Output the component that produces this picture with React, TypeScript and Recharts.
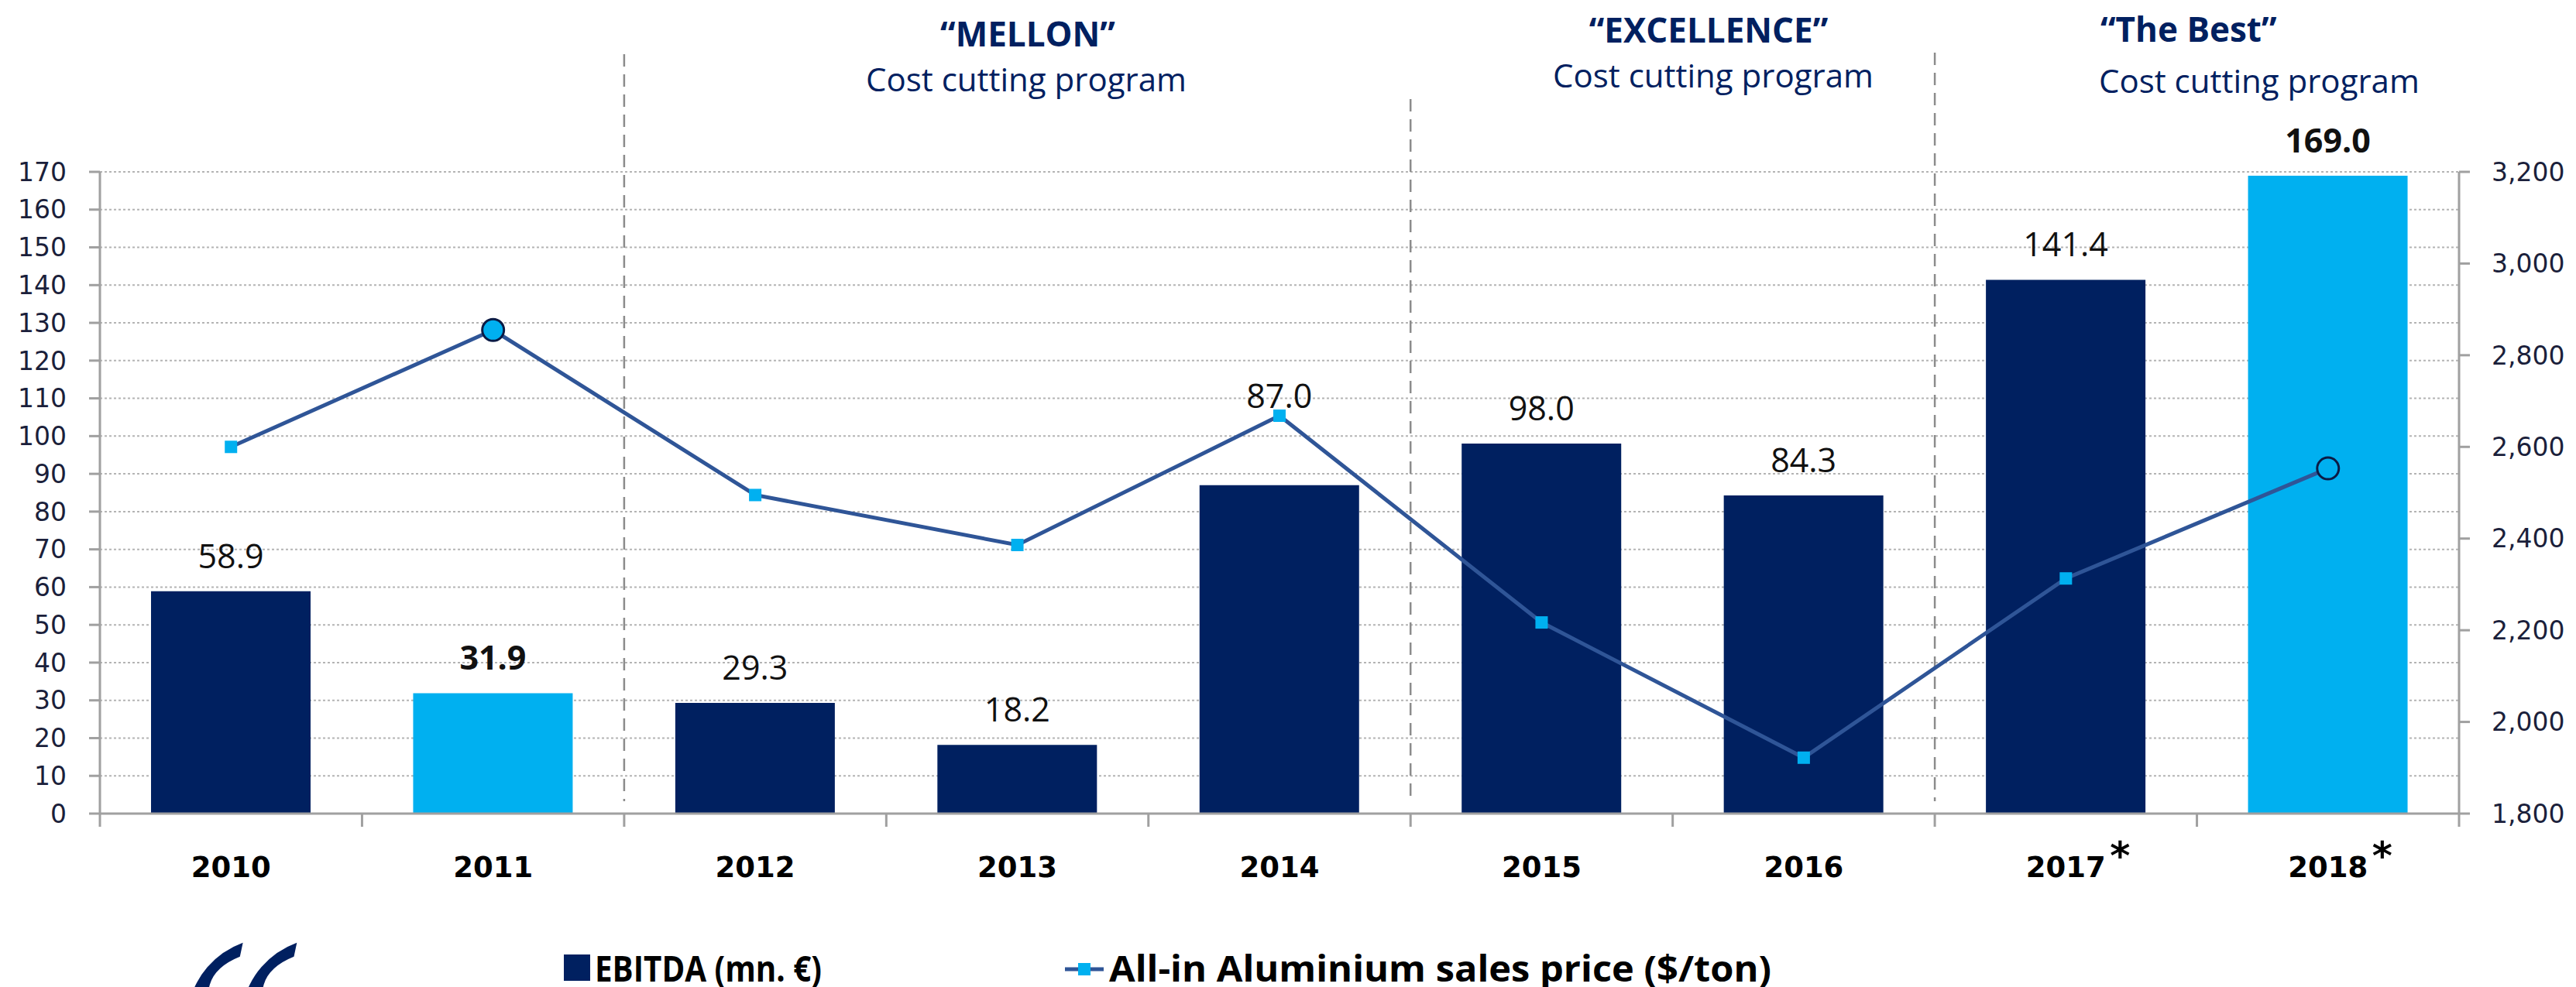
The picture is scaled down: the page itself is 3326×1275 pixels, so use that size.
import React from "react";
import {
  ComposedChart,
  Bar,
  Line,
  XAxis,
  YAxis,
  CartesianGrid,
  ReferenceLine,
  LabelList,
  Cell,
  Legend,
} from "recharts";

// ---------- data ----------
const years = ["2010", "2011", "2012", "2013", "2014", "2015", "2016", "2017", "2018"];
const ebitda = [58.9, 31.9, 29.3, 18.2, 87.0, 98.0, 84.3, 141.4, 169.0];
const aluminiumPrice = [2600, 2855, 2495, 2386, 2668, 2217, 1922, 2313, 2553];
const highlightYears = ["2011", "2018"];
const estimateYears = ["2017", "2018"];
const leftTicks = [0, 10, 20, 30, 40, 50, 60, 70, 80, 90, 100, 110, 120, 130, 140, 150, 160, 170];
const rightTicks = [1800, 2000, 2200, 2400, 2600, 2800, 3000, 3200];
const programStarts = ["2012", "2015", "2017"];
const programTitles = ["“MELLON”", "“EXCELLENCE”", "“The Best”"];
const programSubtitle = "Cost cutting program";
const ebitdaName = "EBITDA (mn. €)";
const priceName = "All-in Aluminium sales price ($/ton)";

const data = years.map((year, i) => ({
  year,
  ebitda: ebitda[i],
  price: aluminiumPrice[i],
}));

// ---------- layout / style ----------
const W = 3326;
const H = 1275;
const NAVY = "#002060";
const LIGHT = "#00B0F0";
const LINE = "#2F5597";
const AXIS = "#A0A0A0";
const LABEL_LIFT: Record<string, number> = { "2014": 100 };
const SEPARATOR_TOP: Record<string, number> = { "2012": 70, "2015": 128, "2017": 68 };
const TITLE_LAYOUT = [
  { tx: 1327, ty: 60, sx: 1325, sy: 118, anchor: "middle" },
  { tx: 2206, ty: 55, sx: 2212, sy: 113, anchor: "middle" },
  { tx: 2712, ty: 54, sx: 2710, sy: 120, anchor: "start" },
];

const tickFont = { fontFamily: "DejaVu Sans", fontSize: 33, fill: "#1B1F3B" };

const XTick = (props: any) => {
  const { x, y, payload, index, visibleTicksCount } = props;
  const half = payload && payload.offset ? payload.offset : 0;
  const year = payload.value;
  const isLast = index === (visibleTicksCount ?? years.length) - 1;
  return (
    <g>
      <line x1={x - half} y1={y} x2={x - half} y2={y + 17} stroke={AXIS} strokeWidth={3} />
      {isLast && <line x1={x + half} y1={y} x2={x + half} y2={y + 17} stroke={AXIS} strokeWidth={3} />}
      <text
        x={x}
        y={y + 82}
        textAnchor="middle"
        fontFamily="DejaVu Sans"
        fontWeight="bold"
        fontSize={37}
        fill="#000"
      >
        {year}
      </text>
      {estimateYears.includes(year) && (
        <text x={x + 57} y={y + 72} fontFamily="DejaVu Sans" fontWeight="bold" fontSize={50} fill="#000">
          *
        </text>
      )}
    </g>
  );
};

const PriceDot = (props: any) => {
  const { cx, cy, payload, index } = props;
  if (cx == null || cy == null) return null;
  const year = payload ? payload.year : years[index];
  if (highlightYears.includes(year)) {
    return <circle key={`d${index}`} cx={cx} cy={cy} r={14} fill={LIGHT} stroke="#0B1B45" strokeWidth={3} />;
  }
  return <rect key={`d${index}`} x={cx - 8} y={cy - 8} width={16} height={16} fill={LIGHT} />;
};

const BarValueLabel = (props: any) => {
  const { x, y, width, value, index } = props;
  const year = years[index];
  const lift = LABEL_LIFT[year] ?? 30;
  const bold = highlightYears.includes(year);
  return (
    <text
      x={Number(x) + Number(width) / 2}
      y={Number(y) - lift}
      textAnchor="middle"
      fontFamily="Open Sans"
      fontWeight={bold ? "bold" : "normal"}
      fontSize={43}
      fill="#111"
    >
      {Number(value).toFixed(1)}
    </text>
  );
};

const SeparatorShape = (topY: number) => (props: any) => {
  const { x1, y1, y2 } = props;
  const bottom = Math.max(Number(y1), Number(y2));
  return (
    <line
      x1={x1}
      x2={x1}
      y1={topY}
      y2={bottom - 16}
      stroke="#8C8C8C"
      strokeWidth={2.5}
      strokeDasharray="16 10"
    />
  );
};

const LegendContent = () => (
  <svg width={W} height={70} style={{ display: "block" }}>
    <rect x={728} y={28} width={34} height={34} fill={NAVY} />
    <text
      x={768}
      y={63}
      fontFamily="Open Sans"
      fontWeight="bold"
      fontSize={46}
      fill="#000"
      textLength={293}
      lengthAdjust="spacingAndGlyphs"
    >
      {ebitdaName}
    </text>
    <line x1={1375} y1={47} x2={1425} y2={47} stroke={LINE} strokeWidth={5} />
    <rect x={1392} y={39} width={16} height={16} fill={LIGHT} />
    <text
      x={1432}
      y={63}
      fontFamily="Open Sans"
      fontWeight="bold"
      fontSize={46}
      fill="#000"
      textLength={855}
      lengthAdjust="spacingAndGlyphs"
    >
      {priceName}
    </text>
  </svg>
);

export default function App() {
  return (
    <div style={{ position: "absolute", left: 0, top: 0, width: W, height: H, background: "#fff", overflow: "hidden" }}>
      <ComposedChart
        width={W}
        height={H}
        data={data}
        margin={{ top: 222, right: 0, bottom: 124, left: 0 }}
        barCategoryGap="19.5%"
      >
        <CartesianGrid yAxisId="left" vertical={false} stroke="#B4B4B4" strokeWidth={2} strokeDasharray="3 3" />
        <XAxis
          dataKey="year"
          height={100}
          axisLine={{ stroke: AXIS, strokeWidth: 3 }}
          tickLine={false}
          tickSize={0}
          tickMargin={0}
          interval={0}
          tick={<XTick />}
        />
        <YAxis
          yAxisId="left"
          orientation="left"
          width={129}
          domain={[0, 170]}
          ticks={leftTicks}
          interval={0}
          axisLine={{ stroke: AXIS, strokeWidth: 3 }}
          tickLine={{ stroke: AXIS, strokeWidth: 3 }}
          tickSize={14}
          tickMargin={29}
          tick={tickFont}
        />
        <YAxis
          yAxisId="right"
          orientation="right"
          width={151}
          domain={[1800, 3200]}
          ticks={rightTicks}
          interval={0}
          axisLine={{ stroke: AXIS, strokeWidth: 3 }}
          tickLine={{ stroke: AXIS, strokeWidth: 3 }}
          tickSize={14}
          tickMargin={28}
          tick={tickFont}
          tickFormatter={(v: number) => v.toLocaleString("en-US")}
        />
        {programStarts.map((y) => (
          <ReferenceLine
            key={y}
            x={y}
            yAxisId="left"
            position="start"
            ifOverflow="visible"
            shape={SeparatorShape(SEPARATOR_TOP[y])}
          />
        ))}
        <Bar yAxisId="left" dataKey="ebitda" name={ebitdaName} isAnimationActive={false}>
          {data.map((d) => (
            <Cell key={d.year} fill={highlightYears.includes(d.year) ? LIGHT : NAVY} />
          ))}
          <LabelList dataKey="ebitda" content={<BarValueLabel />} />
        </Bar>
        <Line
          yAxisId="right"
          dataKey="price"
          name={priceName}
          stroke={LINE}
          strokeWidth={5}
          dot={PriceDot}
          activeDot={false}
          isAnimationActive={false}
        />
        <Legend
          verticalAlign="middle"
          layout="horizontal"
          wrapperStyle={{ position: "absolute", left: 0, top: 1205, width: W, height: 70 }}
          content={<LegendContent />}
        />
      </ComposedChart>
      <svg
        width={W}
        height={H}
        style={{ position: "absolute", left: 0, top: 0, pointerEvents: "none" }}
      >
        {programTitles.map((t, i) => {
          const L = TITLE_LAYOUT[i];
          return (
            <g key={t}>
              <text x={L.tx} y={L.ty} textAnchor={L.anchor as any} fontFamily="Open Sans" fontWeight="bold" fontSize={44} fill={NAVY}>
                {t}
              </text>
              <text x={L.sx} y={L.sy} textAnchor={L.anchor as any} fontFamily="Open Sans" fontSize={42} fill={NAVY}>
                {programSubtitle}
              </text>
            </g>
          );
        })}
        <text
          transform="translate(142,1537) skewX(-12) scale(0.72,1)"
          fontFamily="Liberation Serif"
          fontStyle="italic"
          fontSize={480}
          fill={NAVY}
        >
          “
        </text>
      </svg>
    </div>
  );
}
